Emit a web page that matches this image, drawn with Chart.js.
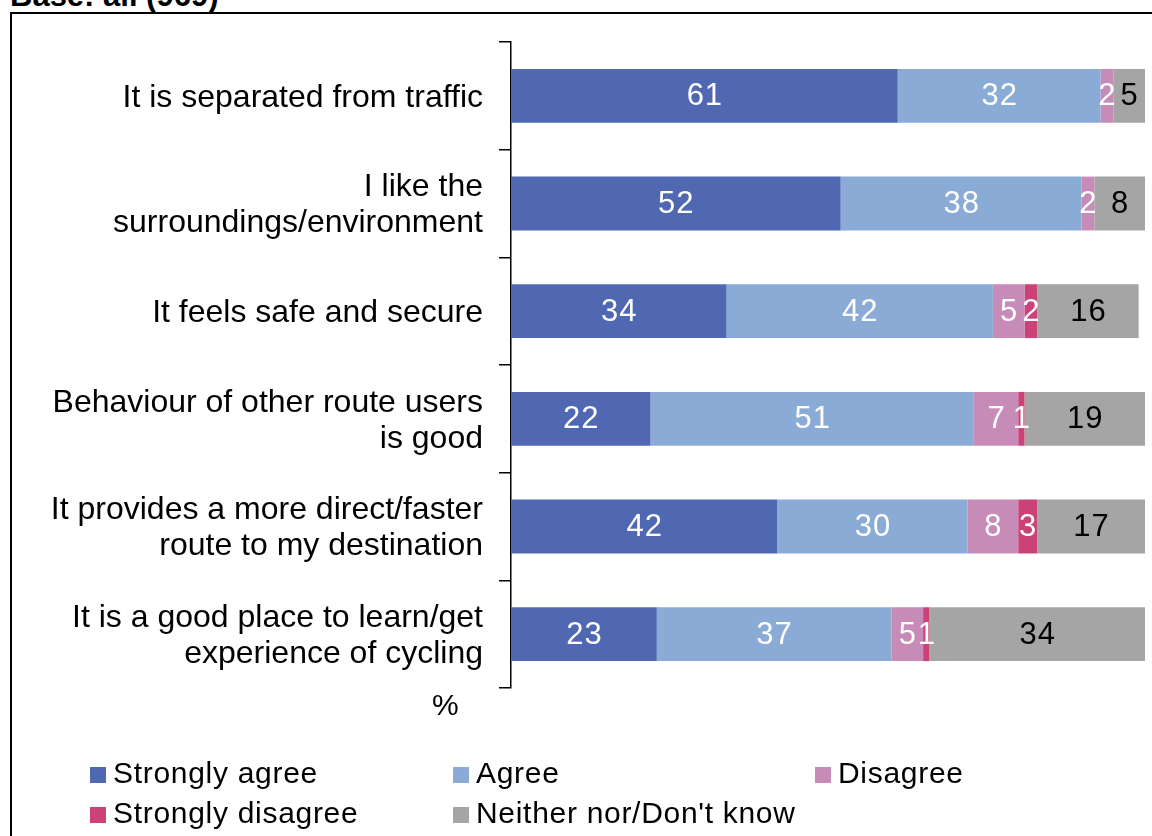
<!DOCTYPE html>
<html>
<head>
<meta charset="utf-8">
<script src="https://cdn.jsdelivr.net/npm/chart.js@4/dist/chart.umd.min.js"></script>
<style>
  html, body { margin: 0; padding: 0; background: #fff; overflow: hidden; }
  body { width: 1152px; height: 836px; position: relative; font-family: "Liberation Sans", Arial, sans-serif; }
  #frame { position: absolute; left: 10px; top: 12px; width: 1160px; height: 840px; border: 2px solid #000; box-sizing: border-box; }
  #base { position: absolute; left: 10px; top: -20px; font-size: 31px; line-height: 31px; font-weight: bold; color: #000; }
  #wrap { position: absolute; left: 0; top: 0; width: 1152px; height: 836px; }
  #pct { position: absolute; left: 432px; top: 688px; font-size: 30px; line-height: 34px; }
  #legend { position: absolute; left: 90px; top: 753px; display: grid; grid-template-columns: 363px 362px 300px; grid-auto-rows: 40px; }
  .item { display: flex; align-items: center; font-size: 30px; letter-spacing: 0.7px; color: #000; white-space: nowrap; }
  .item span.box { width: 16px; height: 16px; margin-right: 7px; margin-top: 3px; flex: none; }
</style>
</head>
<body>
<div id="frame"></div>
<div id="base">Base: all (969)</div>
<div id="wrap"><canvas id="myChart" width="1152" height="836"></canvas></div>
<div id="pct">%</div>
<div id="legend"></div>
<script>
const categories = [
    'It is separated from traffic',
    ['I like the', 'surroundings/environment'],
    'It feels safe and secure',
    ['Behaviour of other route users', 'is good'],
    ['It provides a more direct/faster', 'route to my destination'],
    ['It is a good place to learn/get', 'experience of cycling']
];
const seriesNames = ['Strongly agree', 'Agree', 'Disagree', 'Strongly disagree', 'Neither nor/Don\'t know'];
const strongApprove = [61, 52, 34, 22, 42, 23];
const approve = [32, 38, 42, 51, 30, 37];
const disapprove = [2, 2, 5, 7, 8, 5];
const strongDisapprove = [0, 0, 2, 1, 3, 1];
const neither = [5, 8, 16, 19, 17, 34];
const colors = ['#5068B2', '#8AABD6', '#C78BB8', '#CB4279', '#A5A5A5'];
const labelColors = ['#fff', '#fff', '#fff', '#fff', '#000'];

const fontFamily = '"Liberation Sans", Arial, sans-serif';

// numbers in the middle of each segment
const valueLabels = {
    id: 'valueLabels',
    afterDatasetsDraw(chart) {
        const ctx = chart.ctx;
        ctx.save();
        ctx.font = '31px ' + fontFamily;
        ctx.letterSpacing = '1px';
        ctx.textAlign = 'center';
        ctx.textBaseline = 'middle';
        chart.data.datasets.forEach((ds, i) => {
            const meta = chart.getDatasetMeta(i);
            meta.data.forEach((bar, j) => {
                const v = ds.data[j];
                if (!v) return;
                ctx.fillStyle = labelColors[i];
                ctx.fillText(String(v), (bar.x + bar.base) / 2 + 0.5, bar.y + 1);
            });
        });
        ctx.restore();
    }
};

const allSeries = [strongApprove, approve, disapprove, strongDisapprove, neither];
const ctx = document.getElementById('myChart');
const chart = new Chart(ctx, {
    type: 'bar',
    data: {
        labels: categories,
        datasets: allSeries.map((d, i) => ({
            label: seriesNames[i],
            data: d,
            backgroundColor: colors[i],
            borderWidth: 0,
            categoryPercentage: 1,
            barPercentage: 0.5
        }))
    },
    options: {
        indexAxis: 'y',
        responsive: false,
        animation: false,
        layout: { padding: { left: 0, right: 7, top: 42, bottom: 148 } },
        plugins: { legend: { display: false }, tooltip: { enabled: false } },
        scales: {
            x: { stacked: true, display: false, min: 0, max: 100 },
            y: {
                stacked: true,
                afterFit(scale) {
                    scale.width = 511;
                    scale.paddingTop = 0;
                    scale.paddingBottom = 0;
                },
                border: { display: true, color: '#000', width: 1.5 },
                grid: { display: true, drawOnChartArea: false, drawTicks: true, tickLength: 12, offset: true, color: '#000', lineWidth: 1.5 },
                ticks: { color: '#000', padding: 16, labelOffset: 2, font: { family: fontFamily, size: 32, lineHeight: 1.125 } }
            }
        }
    },
    plugins: [valueLabels]
});

// legend
const legend = document.getElementById('legend');
seriesNames.forEach((name, i) => {
    const item = document.createElement('div');
    item.className = 'item';
    item.innerHTML = `<span class="box" style="background:${colors[i]}"></span>${name}`;
    legend.appendChild(item);
});
</script>
</body>
</html>
